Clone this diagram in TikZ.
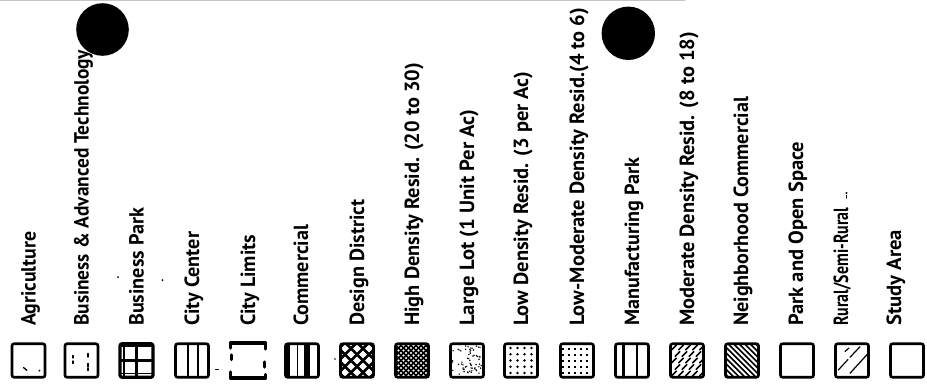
\documentclass[tikz,border=0pt]{standalone}
\usepackage{fontspec}
\usepackage{graphicx}
\newfontfamily\lblfont{PT Sans Bold}
\newcommand\fitlbl[2]{\resizebox{#1}{\height}{#2}}
\begin{document}
\begin{tikzpicture}[x=1pt,y=-1pt,line join=round,line cap=round]
\tikzset{
  swatch/.style={draw, line width=2.6pt, minimum width=33pt, minimum height=33.5pt, rounded corners=2pt, inner sep=0pt},
  lbl/.style={rotate=90, anchor=base west, inner sep=0pt, font=\lblfont\fontsize{20.5}{20.5}\selectfont},
  speck/.style={fill=black},
}
\useasboundingbox (0,0) rectangle (927,388);
\fill[white] (0,0) rectangle (927,388);
\draw[gray!45, line width=1.2pt] (0,0.8) -- (685,0.8);
% swatch centres
\coordinate (c1) at (28.5,360.5);
\coordinate (c2) at (81.5,360.5);
\coordinate (c3) at (136.5,360.5);
\coordinate (c4) at (192,360.5);
\coordinate (c5) at (248,360.5);
\coordinate (c6) at (302,360.5);
\coordinate (c7) at (357,360.5);
\coordinate (c8) at (412,360.5);
\coordinate (c9) at (467,360.5);
\coordinate (c10) at (521,360.5);
\coordinate (c11) at (577,360.5);
\coordinate (c12) at (632,360.5);
\coordinate (c13) at (687,360.5);
\coordinate (c14) at (742,360.5);
\coordinate (c15) at (797,360.5);
\coordinate (c16) at (852,360.5);
\coordinate (c17) at (907,360.5);
% labels
\node[lbl] (l1) at (35.5,326) {\fitlbl{94pt}{Agriculture}};
\node[lbl] (l2) at (88.5,326) {\fitlbl{276pt}{Business \& Advanced Technology}};
\node[lbl] (l3) at (143.5,326) {\fitlbl{118pt}{Business Park}};
\node[lbl] (l4) at (199,326) {\fitlbl{94pt}{City Center}};
\node[lbl] (l5) at (255,326) {\fitlbl{91pt}{City Limits}};
\node[lbl] (l6) at (308,326) {\fitlbl{101pt}{Commercial}};
\node[lbl] (l7) at (364,326) {\fitlbl{126pt}{Design District}};
\node[lbl] (l8) at (419,326) {\fitlbl{263pt}{High Density Resid. (20 to 30)}};
\node[lbl] (l9) at (474,326) {\fitlbl{216pt}{Large Lot (1 Unit Per Ac)}};
\node[lbl] (l10) at (528,326) {\fitlbl{254pt}{Low Density Resid. (3 per Ac)}};
\node[lbl] (l11) at (584,326) {\fitlbl{318pt}{Low-Moderate Density Resid.(4 to 6)}};
\node[lbl] (l12) at (639,326) {\fitlbl{168pt}{Manufacturing Park}};
\node[lbl] (l13) at (694,326) {\fitlbl{294pt}{Moderate Density Resid. (8 to 18)}};
\node[lbl] (l14) at (748,326) {\fitlbl{229pt}{Neighborhood Commercial}};
\node[lbl] (l15) at (803,326) {\fitlbl{184pt}{Park and Open Space}};
\node[lbl] (l16) at (848,326) {\fitlbl{118pt}{Rural/Semi-Rural}};
\node[lbl] (l17) at (901,326) {\fitlbl{96pt}{Study Area}};
% black dots
\fill (102.5,29.5) circle (26.3);
\fill (628.3,33.3) circle (26.7);
% specks
\fill[speck] (118,277) circle (1);
\fill[speck] (162.5,280) circle (1);
\fill[speck] (335,359) circle (0.9);
\draw[line width=1pt] (215.5,369) -- (218.5,369);
\fill[speck] (846.5,193) circle (1.1);
\draw[line width=1.1pt] (846.5,195.5) -- (846.5,198);
% ---- patterns ----
% 1 Agriculture
\begin{scope}[shift={(c1)}]
  \draw[line width=1.3pt] (-5,7) -- (-1.5,10);
  \fill (11,10) circle (1);
\end{scope}
% 2 Business & Advanced Technology
\begin{scope}[shift={(c2)}]
  \draw[line width=1.4pt] (-8.5,-5) -- (-8.5,-2.5) (-8.5,0.5) -- (-8.5,3);
  \draw[line width=1.4pt] (6.5,-7) -- (6.5,-3.5) (6.5,3) -- (6.5,6) (6.5,7.5) -- (6.5,10);
\end{scope}
% 3 Business Park
\begin{scope}[shift={(c3)}]
  \draw[line width=2.6pt] (0,-16.5) -- (0,16.5) (-16.5,0) -- (16.5,0);
  \draw[line width=1.2pt] (-12.5,-16.5) -- (-12.5,16.5) (-16.5,13) -- (16.5,13);
  \draw[line width=1.6pt] (-16.5,-14.5) -- (16.5,-14.5);
\end{scope}
% 4 City Center
\begin{scope}[shift={(c4)}]
  \draw[line width=2pt] (-4,-16.5) -- (-4,16.5) (6,-16.5) -- (6,16.5);
\end{scope}
% 6 Commercial
\begin{scope}[shift={(c6)}]
  \fill (-16.5,-16.5) rectangle (-12,16.5);
  \draw[line width=1.5pt] (-4.5,-16.5) -- (-4.5,16.5);
  \fill (1.5,-16.5) rectangle (7.5,16.5);
\end{scope}
% 7 Design District
\begin{scope}[shift={(c7)}]
  \clip (-16.5,-16.5) rectangle (16.5,16.5);
  \foreach \t in {-30,-18,-6,6,18,30} {
    \draw[line width=2.6pt] (\t-20,-20) -- (\t+20,20);
    \draw[line width=2.6pt] (\t-20,20) -- (\t+20,-20);
  }
\end{scope}
% 8 High Density
\begin{scope}[shift={(c8)}]
  \clip (-16.5,-16.5) rectangle (16.5,16.5);
  \foreach \t in {-36,-31,...,36} {
    \draw[line width=1.7pt] (\t-20,-20) -- (\t+20,20);
    \draw[line width=1.7pt] (\t-20,20) -- (\t+20,-20);
  }
\end{scope}
% 9 Large Lot
\begin{scope}[shift={(c9)}]
  \pgfmathsetseed{11}
  \foreach \i in {1,...,62} {
    \fill ({14.5*rand},{14.5*rand}) circle (0.8);
  }
\end{scope}
% 10 Low Density
\begin{scope}[shift={(c10)}]
  \foreach \xx in {-10.5,-3.5,3.5,10.5} {
    \foreach \yy in {-12.5,-6.25,0,6.25,12.5} {
      \fill (\xx,\yy) circle (1.3);
    }
  }
\end{scope}
% 11 Low-Moderate Density
\begin{scope}[shift={(c11)}]
  \clip (-16.5,-16.5) rectangle (16.5,16.5);
  \foreach \yy in {-12,-6,0,6,12} {
    \draw[line width=2pt, line cap=butt, dash pattern=on 2.5pt off 3.5pt] (-15.5,\yy) -- (16.5,\yy);
  }
\end{scope}
% 12 Manufacturing Park
\begin{scope}[shift={(c12)}]
  \draw[line width=2.8pt] (-8.5,-16.5) -- (-8.5,16.5) (5,-16.5) -- (5,16.5);
\end{scope}
% 13 Moderate Density
\begin{scope}[shift={(c13)}]
  \clip (-16.5,-16.5) rectangle (16.5,16.5);
  \foreach \r in {0,...,4} {
    \foreach \c in {0,...,4} {
      \pgfmathsetmacro\px{-13+7*\c+mod(\r,2)*3.5}
      \pgfmathsetmacro\py{-13+6.5*\r}
      \draw[line width=1.7pt] (\px-2.3,\py+2.3) -- (\px+2.3,\py-2.3);
    }
  }
\end{scope}
% 14 Neighborhood Commercial
\begin{scope}[shift={(c14)}]
  \clip (-16.5,-16.5) rectangle (16.5,16.5);
  \fill (-17,-17) rectangle (17,17);
  \foreach \t in {-33,-27.5,...,33} {
    \draw[white, line width=1.9pt] (\t-20,-20) -- (\t+20,20);
  }
\end{scope}
% 16 Rural/Semi-Rural
\begin{scope}[shift={(c16)}]
  \draw[line width=1.2pt] (-13.7,9.5) -- (-4,-1) (-2,-3.2) -- (8,-13.8);
  \draw[line width=1.2pt] (-2,12.8) -- (16,-7);
  \draw[line width=1.2pt] (-7,-9) -- (-3,-12.5);
\end{scope}
% ---- swatch frames ----
\node[swatch] (b1) at (c1) {};
\node[swatch] (b2) at (c2) {};
\node[swatch, line width=3.2pt] (b3) at (c3) {};
\node[swatch] (b4) at (c4) {};
\node[swatch, draw=none] (b5) at (c5) {};
\begin{scope}[shift={(c5)}, line width=3.5pt]
  \draw (-17.5,-12.5) -- (-17.5,-17.5) -- (17.5,-17.5) -- (17.5,-11.5);
  \draw (-17.5,11.5) -- (-17.5,17.5) -- (17.5,17.5) -- (17.5,14);
  \draw (-16.5,-5.5) -- (-16.5,-1);
  \draw (16.5,1.5) -- (16.5,6.5);
\end{scope}
\node[swatch] (b6) at (c6) {};
\node[swatch] (b7) at (c7) {};
\node[swatch] (b8) at (c8) {};
\node[swatch] (b9) at (c9) {};
\node[swatch] (b10) at (c10) {};
\node[swatch] (b11) at (c11) {};
\node[swatch] (b12) at (c12) {};
\node[swatch] (b13) at (c13) {};
\node[swatch] (b14) at (c14) {};
\node[swatch] (b15) at (c15) {};
\node[swatch] (b16) at (c16) {};
\node[swatch] (b17) at (c17) {};
\end{tikzpicture}
\end{document}
